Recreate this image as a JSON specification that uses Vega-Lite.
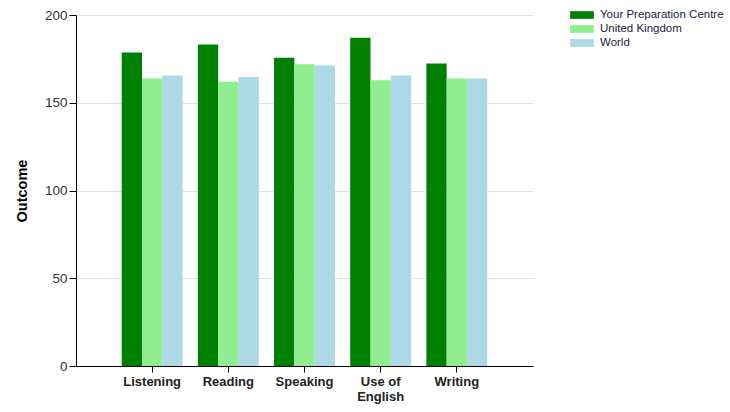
{
  "$schema": "https://vega.github.io/schema/vega-lite/v6.json",
  "autosize": "none",
  "width": 457,
  "height": 351,
  "padding": {"left": 76, "top": 15, "right": 197, "bottom": 46},
  "background": "white",
  "config": {
    "font": "Liberation Sans",
    "view": {"stroke": null}
  },
  "data": {
    "values": [
      {"skill": "Listening", "group": "Your Preparation Centre", "outcome": 178.6},
      {"skill": "Listening", "group": "United Kingdom", "outcome": 163.8},
      {"skill": "Listening", "group": "World", "outcome": 165.5},
      {"skill": "Reading", "group": "Your Preparation Centre", "outcome": 183.2},
      {"skill": "Reading", "group": "United Kingdom", "outcome": 161.9},
      {"skill": "Reading", "group": "World", "outcome": 164.7},
      {"skill": "Speaking", "group": "Your Preparation Centre", "outcome": 175.7},
      {"skill": "Speaking", "group": "United Kingdom", "outcome": 171.9},
      {"skill": "Speaking", "group": "World", "outcome": 171.2},
      {"skill": "Use of English", "group": "Your Preparation Centre", "outcome": 187.0},
      {"skill": "Use of English", "group": "United Kingdom", "outcome": 162.8},
      {"skill": "Use of English", "group": "World", "outcome": 165.5},
      {"skill": "Writing", "group": "Your Preparation Centre", "outcome": 172.3},
      {"skill": "Writing", "group": "United Kingdom", "outcome": 163.8},
      {"skill": "Writing", "group": "World", "outcome": 163.8}
    ]
  },
  "mark": {"type": "bar"},
  "encoding": {
    "x": {
      "field": "skill",
      "type": "nominal",
      "sort": ["Listening", "Reading", "Speaking", "Use of English", "Writing"],
      "scale": {"paddingInner": 0.2, "paddingOuter": 0.6},
      "axis": {
        "title": null,
        "labelAngle": 0,
        "labelFontWeight": "bold",
        "labelFontSize": 13,
        "labelColor": "#222222",
        "labelPadding": 3,
        "labelLineHeight": 15,
        "labelExpr": "datum.label == 'Use of English' ? ['Use of', 'English'] : datum.label",
        "domainColor": "#000000",
        "domainWidth": 1,
        "tickColor": "#000000",
        "tickSize": 6,
        "grid": false
      }
    },
    "xOffset": {
      "field": "group",
      "type": "nominal",
      "sort": ["Your Preparation Centre", "United Kingdom", "World"],
      "scale": {"paddingInner": 0, "paddingOuter": 0}
    },
    "y": {
      "field": "outcome",
      "type": "quantitative",
      "scale": {"domain": [0, 200]},
      "axis": {
        "title": "Outcome",
        "titleFontSize": 14.5,
        "titleFontWeight": "bold",
        "titleColor": "#000000",
        "titlePadding": 15,
        "values": [0, 50, 100, 150, 200],
        "labelFontSize": 13.5,
        "labelColor": "#333333",
        "labelPadding": 2,
        "domainColor": "#000000",
        "tickColor": "#000000",
        "tickSize": 7,
        "gridColor": "#e3e3e3"
      }
    },
    "color": {
      "field": "group",
      "type": "nominal",
      "sort": ["Your Preparation Centre", "United Kingdom", "World"],
      "scale": {
        "domain": ["Your Preparation Centre", "United Kingdom", "World"],
        "range": ["#008000", "#90EE90", "#ADD8E6"]
      },
      "legend": {
        "title": null,
        "orient": "none",
        "legendX": 500,
        "legendY": -6,
        "symbolType": "M-2,-0.65L2,-0.65L2,0.65L-2,0.65Z",
        "symbolSize": 140,
        "symbolStrokeWidth": 0,
        "labelFontSize": 11.5,
        "labelColor": "#222244",
        "labelOffset": 12,
        "rowPadding": 2,
        "padding": 0
      }
    }
  }
}
